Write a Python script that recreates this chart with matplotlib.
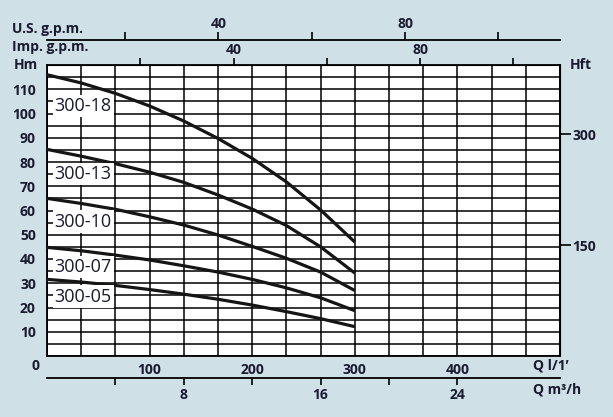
import numpy as np
import matplotlib.pyplot as plt
from matplotlib.ticker import FixedLocator

# pump curves, Q in l/min, H in m
q = [0, 33.3, 66.7, 100, 133.3, 166.7, 200, 233.3, 266.7, 300]
h_18 = [116, 112.6, 108.3, 103.1, 96.9, 89.7, 81.5, 71.8, 60.2, 47]
h_13 = [85.2, 82.4, 79.3, 75.8, 71.6, 66.4, 60.6, 53.8, 45, 34.2]
h_10 = [65, 62.9, 60.5, 57.4, 54, 49.9, 45.2, 40.3, 34.6, 27]
h_07 = [44.8, 43.4, 41.6, 39.6, 37.2, 34.6, 31.6, 28.1, 24, 18.7]
h_05 = [31.6, 30.5, 29.1, 27.4, 25.5, 23.4, 21, 18.3, 15.4, 12.1]
curves = [h_18, h_13, h_10, h_07, h_05]
names = ["300-18", "300-13", "300-10", "300-07", "300-05"]
name_h = [103.2, 75, 55.4, 36.8, 24.5]

q_ticks = [100, 200, 300, 400]
hm_ticks = [10, 20, 30, 40, 50, 60, 70, 80, 90, 100, 110]
hft_ticks = [150, 300]
m3h_ticks = [4, 8, 12, 16, 20, 24]
m3h_labels = ["", "8", "", "16", "", "24"]
gpm_ticks = [20, 40, 60, 80, 100]
gpm_labels = ["", "40", "", "80", ""]

bg = "#cfe0e6"
ink = "#1a1a30"
plt.rcParams['font.family'] = ['Open Sans', 'DejaVu Sans']

W, H = 613, 417
fig = plt.figure(figsize=(W / 100, H / 100), dpi=100, facecolor=bg)
ax = fig.add_axes([47 / W, 61 / H, 513 / W, 291 / H])
ax.set_facecolor("white")
ax.set_xlim(0, 500)
ax.set_ylim(0, 120)

ax.xaxis.set_major_locator(FixedLocator(q_ticks))
ax.xaxis.set_minor_locator(FixedLocator(np.arange(0, 501, 100 / 3)))
ax.yaxis.set_major_locator(FixedLocator(hm_ticks))
ax.yaxis.set_minor_locator(FixedLocator(np.arange(0, 121, 5)))
ax.grid(True, which="both", color="black", linewidth=1.1)
ax.set_axisbelow(True)
ax.tick_params(which="both", length=0)
ax.tick_params(axis="x", pad=5)
ax.tick_params(axis="y", pad=8)
for lab in ax.get_xticklabels() + ax.get_yticklabels():
    lab.set_fontsize(10)
    lab.set_fontweight("bold")
    lab.set_color(ink)
for s in ax.spines.values():
    s.set_linewidth(1.3)

for hv in curves:
    ax.plot(q, hv, color="#151515", linewidth=2.3, solid_capstyle="butt",
            solid_joinstyle="round", zorder=3)
for name, y in zip(names, name_h):
    ax.text(7.5, y, name, fontsize=13, color=ink, va="center", ha="left", zorder=4,
            bbox=dict(facecolor="white", edgecolor="none", pad=1.5))

# right axis in feet
ft = ax.secondary_yaxis("right", functions=(lambda m: m * 3.281, lambda f: f / 3.281))
ft.set_yticks(hft_ticks)
ft.tick_params(length=8, width=1.2, pad=1, labelsize=10, labelcolor=ink)
for lab in ft.get_yticklabels():
    lab.set_fontweight("bold")

# bottom axis in m3/h
m3 = ax.secondary_xaxis(-22 / 291, functions=(lambda l: l * 0.06, lambda m: m / 0.06))
m3.set_xticks(m3h_ticks, m3h_labels)
m3.spines["bottom"].set_linewidth(1.3)
m3.tick_params(length=5, width=1.2, pad=2, labelsize=10, labelcolor=ink)
for lab in m3.get_xticklabels():
    lab.set_fontweight("bold")

# top axes in gpm
imp = ax.secondary_xaxis("top", functions=(lambda l: l / 4.546, lambda g: g * 4.546))
imp.set_xticks(gpm_ticks, gpm_labels)
imp.tick_params(length=5, width=1.2, pad=0.5, labelsize=10, labelcolor=ink)
us = ax.secondary_xaxis(1 + 25 / 291, functions=(lambda l: 20 + (l - 76) / 4.55,
                                                 lambda g: 76 + (g - 20) * 4.55))
us.set_xticks(gpm_ticks, gpm_labels)
us.spines["top"].set_linewidth(1.3)
us.tick_params(length=6, width=1.2, pad=0.5, labelsize=10, labelcolor=ink)
for lab in imp.get_xticklabels() + us.get_xticklabels():
    lab.set_fontweight("bold")

def ftext(x, y, s, **kw):
    fig.text(x / W, 1 - y / H, s, fontsize=10, fontweight="bold", color=ink,
             va="center", **kw)

ftext(12, 29, "U.S. g.p.m.")
ftext(12, 47, "Imp. g.p.m.")
ftext(14, 65, "Hm")
ftext(570, 65, "Hft")
ftext(35, 366, "0", ha="center")
ftext(533, 366, "Q l/1’")
ftext(533, 390, "Q m³/h")

fig.savefig("out.png", dpi=100, facecolor=bg)
